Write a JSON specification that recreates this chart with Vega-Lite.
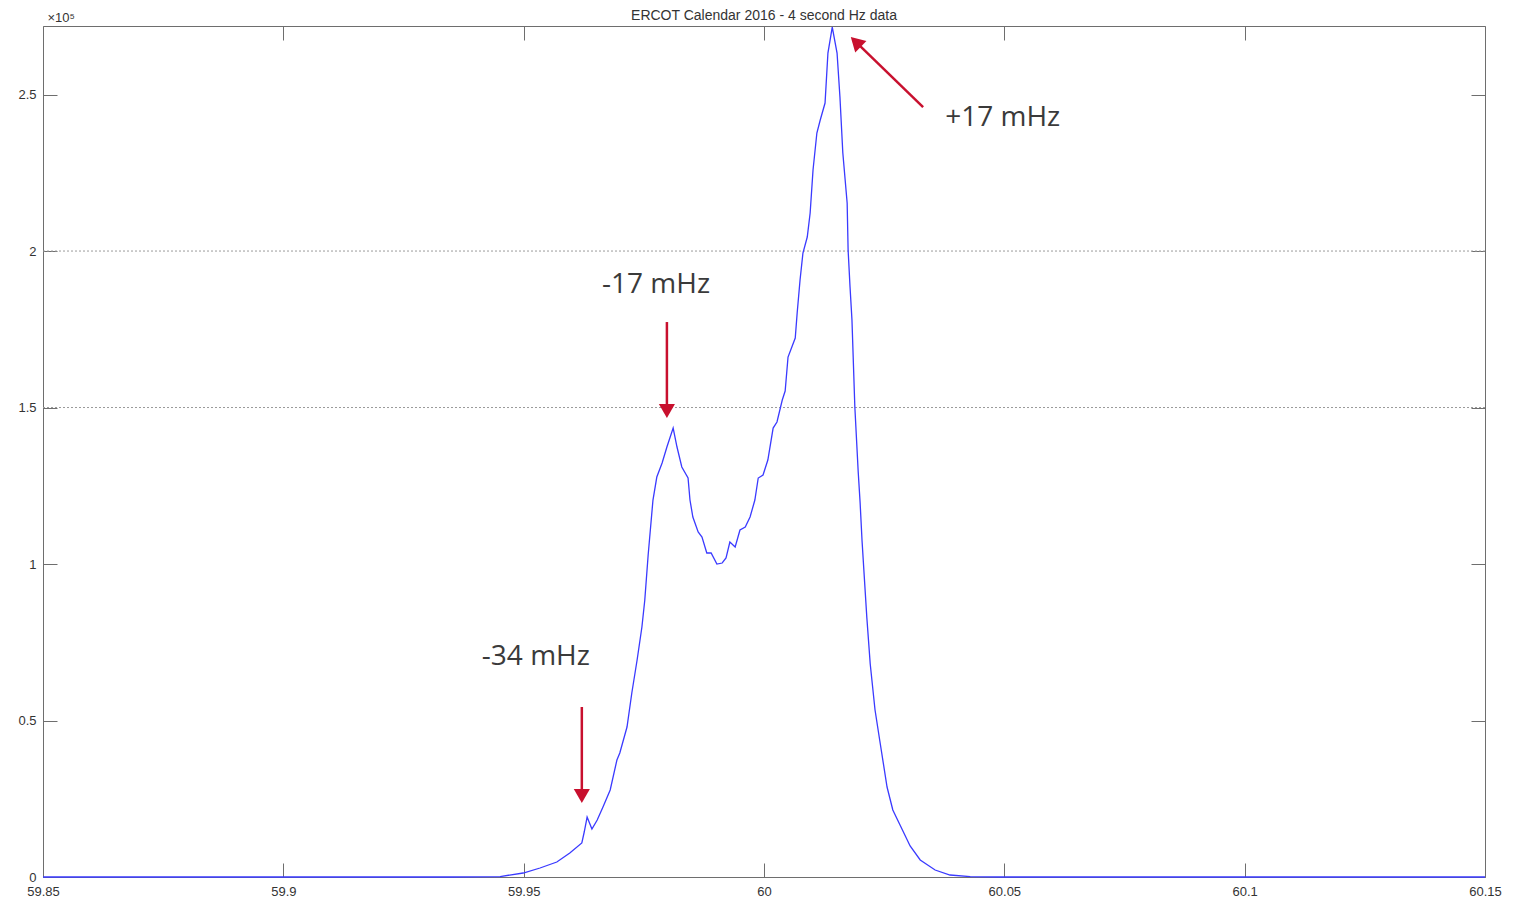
{
  "$schema": "https://vega.github.io/schema/vega-lite/v6.json",
  "autosize": {"type": "none"},
  "width": 1442,
  "height": 851,
  "padding": {"left": 43, "top": 26, "right": 39, "bottom": 24},
  "background": "white",
  "config": {
    "view": {"stroke": null},
    "font": "Liberation Sans",
    "axis": {"domainColor": "#6e6e6e", "tickColor": "#6e6e6e", "labelColor": "#333333", "labelFont": "Liberation Sans", "labelFontSize": 13, "grid": false}
  },
  "title": {"text": "ERCOT Calendar 2016 - 4 second Hz data", "font": "Liberation Sans", "fontSize": 14, "fontWeight": "normal", "color": "#333333", "offset": 5, "dy": 28, "baseline": "alphabetic"},
  "datasets": {
    "freq": [
      {"hz": 59.85, "count": 0},
      {"hz": 59.9347, "count": 0},
      {"hz": 59.9451, "count": 150},
      {"hz": 59.9499, "count": 1278},
      {"hz": 59.9534, "count": 2875},
      {"hz": 59.9569, "count": 4792},
      {"hz": 59.9596, "count": 7668},
      {"hz": 59.9621, "count": 10863},
      {"hz": 59.9626, "count": 14377},
      {"hz": 59.9632, "count": 19169},
      {"hz": 59.9642, "count": 15335},
      {"hz": 59.9653, "count": 18211},
      {"hz": 59.9665, "count": 22364},
      {"hz": 59.968, "count": 27796},
      {"hz": 59.9694, "count": 37380},
      {"hz": 59.97, "count": 39617},
      {"hz": 59.9715, "count": 47923},
      {"hz": 59.9725, "count": 58786},
      {"hz": 59.9736, "count": 69329},
      {"hz": 59.9746, "count": 79872},
      {"hz": 59.9752, "count": 88498},
      {"hz": 59.9759, "count": 102875},
      {"hz": 59.9769, "count": 120447},
      {"hz": 59.9777, "count": 127796},
      {"hz": 59.9788, "count": 132268},
      {"hz": 59.9798, "count": 137380},
      {"hz": 59.9811, "count": 143450},
      {"hz": 59.9819, "count": 137380},
      {"hz": 59.9829, "count": 130990},
      {"hz": 59.9842, "count": 127476},
      {"hz": 59.9846, "count": 120447},
      {"hz": 59.9852, "count": 115016},
      {"hz": 59.9863, "count": 110224},
      {"hz": 59.9871, "count": 108626},
      {"hz": 59.9881, "count": 103514},
      {"hz": 59.989, "count": 103514},
      {"hz": 59.9902, "count": 100000},
      {"hz": 59.9913, "count": 100319},
      {"hz": 59.9921, "count": 101917},
      {"hz": 59.9929, "count": 107029},
      {"hz": 59.994, "count": 105431},
      {"hz": 59.995, "count": 110863},
      {"hz": 59.9961, "count": 111821},
      {"hz": 59.9971, "count": 115016},
      {"hz": 59.9981, "count": 120447},
      {"hz": 59.9988, "count": 127476},
      {"hz": 59.9998, "count": 128435},
      {"hz": 60.0008, "count": 133227},
      {"hz": 60.0019, "count": 143450},
      {"hz": 60.0027, "count": 145367},
      {"hz": 60.0038, "count": 152396},
      {"hz": 60.0044, "count": 155272},
      {"hz": 60.005, "count": 166134},
      {"hz": 60.0065, "count": 172204},
      {"hz": 60.0069, "count": 180192},
      {"hz": 60.0075, "count": 190735},
      {"hz": 60.0081, "count": 199361},
      {"hz": 60.009, "count": 204473},
      {"hz": 60.0096, "count": 212141},
      {"hz": 60.0102, "count": 225879},
      {"hz": 60.011, "count": 237700},
      {"hz": 60.0117, "count": 241853},
      {"hz": 60.0127, "count": 247284},
      {"hz": 60.0133, "count": 263259},
      {"hz": 60.0142, "count": 271565},
      {"hz": 60.0152, "count": 263259},
      {"hz": 60.0158, "count": 249201},
      {"hz": 60.0164, "count": 231310},
      {"hz": 60.0173, "count": 215335},
      {"hz": 60.0175, "count": 200319},
      {"hz": 60.0179, "count": 188498},
      {"hz": 60.0183, "count": 177955},
      {"hz": 60.0189, "count": 150160},
      {"hz": 60.0196, "count": 129393},
      {"hz": 60.02, "count": 119489},
      {"hz": 60.0204, "count": 107348},
      {"hz": 60.0208, "count": 97444},
      {"hz": 60.0214, "count": 82748},
      {"hz": 60.0221, "count": 68051},
      {"hz": 60.0231, "count": 53355},
      {"hz": 60.0241, "count": 43450},
      {"hz": 60.0256, "count": 28754},
      {"hz": 60.0268, "count": 21406},
      {"hz": 60.0283, "count": 16613},
      {"hz": 60.0304, "count": 9904},
      {"hz": 60.0325, "count": 5431},
      {"hz": 60.0356, "count": 2236},
      {"hz": 60.0387, "count": 639},
      {"hz": 60.0429, "count": 100},
      {"hz": 60.0491, "count": 0},
      {"hz": 60.15, "count": 0}
    ],
    "grid": [{"count": 150000}, {"count": 200000}],
    "labels": [
      {"text": "+17 mHz", "hz": 60.0377, "count": 242492},
      {"text": "-17 mHz", "hz": 59.9663, "count": 189137},
      {"text": "-34 mHz", "hz": 59.9413, "count": 70288}
    ],
    "arrows": [
      {"name": "+17", "dir": "diag", "tailHz": 60.0331, "tailCount": 246006, "headHz": 60.0191, "headCount": 266805},
      {"name": "-17", "dir": "down", "tailHz": 59.9798, "tailCount": 177316, "headHz": 59.9798, "headCount": 148882},
      {"name": "-34", "dir": "down", "tailHz": 59.9621, "tailCount": 54313, "headHz": 59.9621, "headCount": 25879}
    ]
  },
  "resolve": {"axis": {"x": "independent", "y": "independent"}},
  "layer": [
    {
      "data": {"name": "grid"},
      "mark": {"type": "rule", "color": "#9a9a9a", "strokeWidth": 1, "strokeDash": [2, 2]},
      "encoding": {
        "y": {"field": "count", "type": "quantitative", "scale": {"domain": [0, 271900], "nice": false, "zero": true}, "axis": null}
      }
    },
    {
      "data": {"name": "freq"},
      "mark": {"type": "line", "color": "#3a3aff", "strokeWidth": 1.3},
      "encoding": {
        "x": {"field": "hz", "type": "quantitative", "scale": {"domain": [59.85, 60.15], "nice": false, "zero": false},
          "axis": {"orient": "bottom", "title": null, "values": [59.85, 59.9, 59.95, 60, 60.05, 60.1, 60.15], "labelExpr": "format(datum.value, '.2~f')", "tickSize": -14, "labelPadding": 22, "labelFlush": false, "labelOverlap": false}},
        "y": {"field": "count", "type": "quantitative", "scale": {"domain": [0, 271900], "nice": false, "zero": true},
          "axis": {"orient": "left", "title": "×10⁵", "titleAngle": 0, "titleAlign": "left", "titleBaseline": "alphabetic", "titleX": 4, "titleY": -5, "titleFont": "Liberation Sans", "titleFontSize": 13, "titleFontWeight": "normal", "titleColor": "#333333", "values": [0, 50000, 100000, 150000, 200000, 250000], "labelExpr": "'' + (datum.value / 100000)", "tickSize": -14, "labelPadding": 21, "labelFlush": false, "labelOverlap": false}}
      }
    },
    {
      "data": {"name": "arrows"},
      "mark": {"type": "rule", "color": "#c8102e", "strokeWidth": 2.5},
      "encoding": {
        "x": {"field": "tailHz", "type": "quantitative", "axis": {"orient": "top", "labels": false, "title": null, "values": [59.85, 59.9, 59.95, 60, 60.05, 60.1, 60.15], "tickSize": -14}},
        "y": {"field": "tailCount", "type": "quantitative", "axis": {"orient": "right", "labels": false, "title": null, "values": [0, 50000, 100000, 150000, 200000, 250000], "tickSize": -14}},
        "x2": {"field": "headHz"},
        "y2": {"field": "headCount"}
      }
    },
    {
      "data": {"name": "arrows"},
      "transform": [{"filter": "datum.dir === 'down'"}],
      "mark": {"type": "point", "shape": "triangle-down", "filled": true, "color": "#c8102e", "opacity": 1, "size": 260},
      "encoding": {
        "x": {"field": "headHz", "type": "quantitative", "axis": null},
        "y": {"field": "headCount", "type": "quantitative", "axis": null}
      }
    },
    {
      "data": {"name": "arrows"},
      "transform": [{"filter": "datum.dir === 'diag'"}],
      "mark": {"type": "point", "shape": "triangle-up", "filled": true, "color": "#c8102e", "opacity": 1, "size": 260, "angle": 314},
      "encoding": {
        "x": {"field": "headHz", "type": "quantitative", "axis": null},
        "y": {"field": "headCount", "type": "quantitative", "axis": null}
      }
    },
    {
      "data": {"name": "labels"},
      "mark": {"type": "text", "align": "left", "baseline": "middle", "font": "Open Sans", "fontSize": 28, "color": "#3a3a3a"},
      "encoding": {
        "x": {"field": "hz", "type": "quantitative", "axis": null},
        "y": {"field": "count", "type": "quantitative", "axis": null},
        "text": {"field": "text"}
      }
    }
  ]
}
